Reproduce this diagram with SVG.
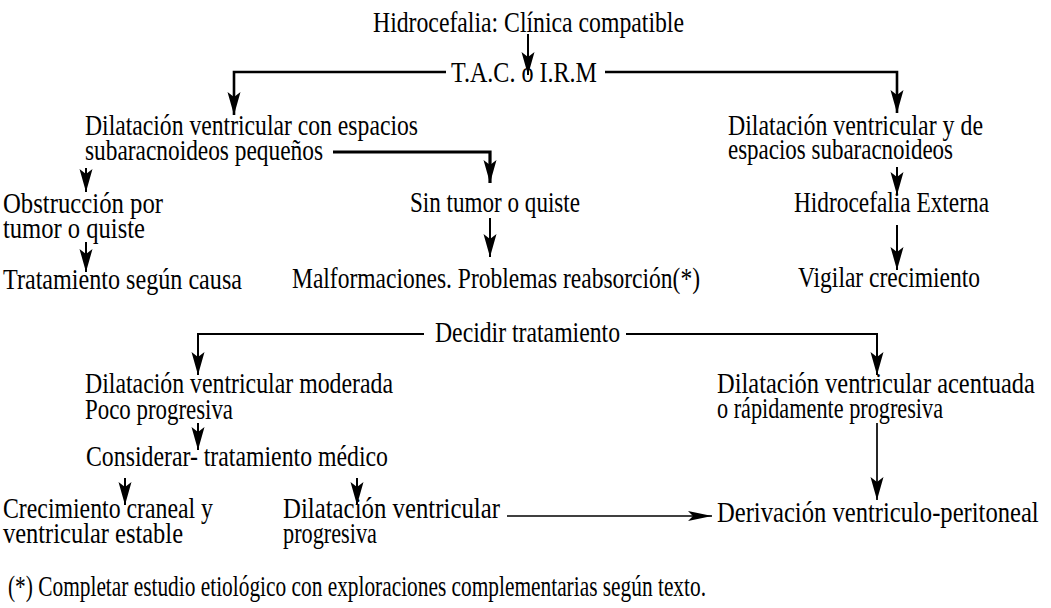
<svg xmlns="http://www.w3.org/2000/svg" width="1051" height="608" viewBox="0 0 1051 608">
<style>
text{font-family:"Liberation Serif","Times New Roman",serif;font-size:29px;fill:#000}
.c{fill:none;stroke:#000;stroke-width:2}
.t{stroke-width:2.6}
.b{stroke-width:3.2}
.f{stroke-width:1.7}
</style>
<defs>
<marker id="ah" viewBox="-25 -8 27 16" refX="0" refY="0" markerWidth="27" markerHeight="16" markerUnits="userSpaceOnUse" orient="auto">
<path d="M0,0 L-23,-6.5 L-18,0 L-23,6.5 Z" fill="#000"/>
</marker>
<marker id="ahf" viewBox="-26 -8 28 16" refX="0" refY="0" markerWidth="28" markerHeight="16" markerUnits="userSpaceOnUse" orient="auto">
<path d="M0,0 L-24,-5 L-19,0 L-24,5 Z" fill="#000"/>
</marker>
</defs>
<rect width="1051" height="608" fill="#fff"/>
<g id="connectors">
<path class="c" d="M528,34 V75" marker-end="url(#ah)"/>
<path class="c t" d="M446,72 H234 V115" marker-end="url(#ah)"/>
<path class="c t" d="M605,72 H897 V113" marker-end="url(#ah)"/>
<path class="c b" d="M333,152 H490 V183" marker-end="url(#ah)"/>
<path class="c" d="M86,168 V192" marker-end="url(#ah)"/>
<path class="c" d="M86,242 V272" marker-end="url(#ah)"/>
<path class="c" d="M490,218 V257" marker-end="url(#ah)"/>
<path class="c" d="M897,167 V195" marker-end="url(#ah)"/>
<path class="c" d="M897,225 V270" marker-end="url(#ah)"/>
<path class="c" d="M424,334 H198 V375" marker-end="url(#ah)"/>
<path class="c" d="M626,334 H877 V375" marker-end="url(#ah)"/>
<path class="c" d="M198,423 V450" marker-end="url(#ah)"/>
<path class="c" d="M125,478 V505" marker-end="url(#ah)"/>
<path class="c" d="M357,478 V505" marker-end="url(#ah)"/>
<path class="c f" d="M877,423 V500" marker-end="url(#ah)"/>
<path class="c f" d="M507,516 H712" marker-end="url(#ahf)"/>
</g>
<g id="n-inicio"><text x="373" y="32" textLength="311" lengthAdjust="spacingAndGlyphs">Hidrocefalia: Clínica compatible</text></g>
<g id="n-tac"><text x="451" y="82" textLength="146" lengthAdjust="spacingAndGlyphs">T.A.C. o I.R.M</text></g>
<g id="n-dil-peq"><text x="85" y="135" textLength="333" lengthAdjust="spacingAndGlyphs">Dilatación ventricular con espacios</text><text x="85" y="160" textLength="238" lengthAdjust="spacingAndGlyphs">subaracnoideos pequeños</text></g>
<g id="n-dil-sub"><text x="728" y="135" textLength="255" lengthAdjust="spacingAndGlyphs">Dilatación ventricular y de</text><text x="728" y="159" textLength="225" lengthAdjust="spacingAndGlyphs">espacios subaracnoideos</text></g>
<g id="n-obstruccion"><text x="3" y="213" textLength="160" lengthAdjust="spacingAndGlyphs">Obstrucción por</text><text x="3" y="238" textLength="142" lengthAdjust="spacingAndGlyphs">tumor o quiste</text></g>
<g id="n-sin-tumor"><text x="410" y="212" textLength="170" lengthAdjust="spacingAndGlyphs">Sin tumor o quiste</text></g>
<g id="n-hidro-ext"><text x="794" y="212" textLength="195" lengthAdjust="spacingAndGlyphs">Hidrocefalia Externa</text></g>
<g id="n-trat-causa"><text x="3" y="289" textLength="239" lengthAdjust="spacingAndGlyphs">Tratamiento según causa</text></g>
<g id="n-malform"><text x="292" y="288" textLength="408" lengthAdjust="spacingAndGlyphs">Malformaciones. Problemas reabsorción(*)</text></g>
<g id="n-vigilar"><text x="798" y="287" textLength="182" lengthAdjust="spacingAndGlyphs">Vigilar crecimiento</text></g>
<g id="n-decidir"><text x="435" y="342" textLength="185" lengthAdjust="spacingAndGlyphs">Decidir tratamiento</text></g>
<g id="n-moderada"><text x="85" y="393" textLength="308" lengthAdjust="spacingAndGlyphs">Dilatación ventricular moderada</text><text x="85" y="419" textLength="148" lengthAdjust="spacingAndGlyphs">Poco progresiva</text></g>
<g id="n-acentuada"><text transform="translate(717,393) scale(0.844,1)" x="0" y="0">Dilatación ventricular acentuada</text><text x="717" y="418" textLength="226" lengthAdjust="spacingAndGlyphs">o rápidamente progresiva</text></g>
<g id="n-considerar"><text x="86" y="466" textLength="302" lengthAdjust="spacingAndGlyphs">Considerar- tratamiento médico</text></g>
<g id="n-estable"><text x="3" y="518" textLength="210" lengthAdjust="spacingAndGlyphs">Crecimiento craneal y</text><text x="3" y="543" textLength="180" lengthAdjust="spacingAndGlyphs">ventricular estable</text></g>
<g id="n-progresiva"><text x="283" y="518" textLength="217" lengthAdjust="spacingAndGlyphs">Dilatación ventricular</text><text x="283" y="543" textLength="94" lengthAdjust="spacingAndGlyphs">progresiva</text></g>
<g id="n-derivacion"><text transform="translate(717,522) scale(0.849,1)" x="0" y="0">Derivación ventriculo-peritoneal</text></g>
<g id="nota"><text x="8" y="596" textLength="698" lengthAdjust="spacingAndGlyphs">(*) Completar estudio etiológico con exploraciones complementarias según texto.</text></g>
</svg>
